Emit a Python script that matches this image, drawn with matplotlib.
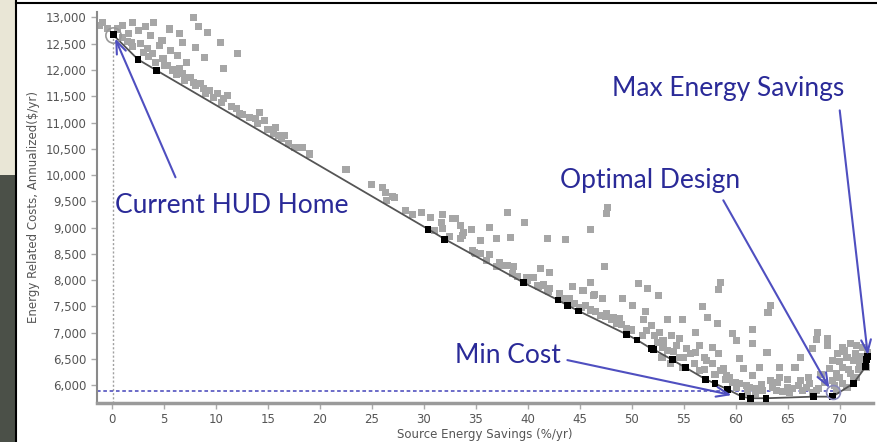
import numpy as np
import matplotlib.pyplot as plt
from matplotlib.patches import Rectangle
from matplotlib.lines import Line2D

# --- data ---
# gray cloud: all simulated designs
gray_x = [-1.2, -0.4, -0.9, 2.0, 2.5, 3.2, 3.7, 1.6, 7.8, 8.3, 9.2, 6.5, 6.8, 4.8, 4.6, 5.6, 6.3,
          7.2, 8.0, 8.9, 10.4, 12.1, 10.7, 1.9, 2.7, 3.4, 3.9, 4.9, 5.3, 6.5, 6.8, 7.5, 7.8, 8.5,
          8.8, 9.4, 10.1, 10.7, 11.1, 12.0, 12.3, 14.2, 13.8, 14.7, 15.7, 15.5, 16.6, 16.3, 17.6,
          18.3, 1.0, 4.0, 5.5, 0.5,
          22.5, 25.0, 26.0, 26.3, 27.0, 26.4, 27.2, 28.2, 28.9, 29.8, 30.6, 31.8, 32.8, 31.7, 31.8,
          33.5, 33.8, 34.6, 36.3, 38.0, 39.7, 35.4, 37.0, 38.3, 33.5, 34.7, 35.4, 36.3, 37.3, 38.0,
          38.6, 39.9, 41.2, 41.9, 41.2, 41.9, 33.0, 33.7, 43.6, 46.0, 47.7, 47.6, 34.9, 37.6, 42.1,
          40.9, 42.1, 44.3, 45.3, 46.0, 46.3, 47.2, 47.4, 49.1, 48.2, 48.8, 47.6, 43.8, 45.0,
          44.0, 45.5, 46.5, 47.5, 48.5, 49.5, 43.0, 41.5, 40.5, 31.0, 32.5, 35.0, 36.0, 37.0,
          38.5, 39.0,
          46.4, 50.1, 50.6, 51.5, 52.6, 51.3, 51.1, 51.9, 53.4, 54.9, 52.7, 53.8, 54.6, 56.1, 56.8,
          57.3, 58.2, 58.5, 58.3, 63.3, 63.1, 61.6, 61.6, 59.7, 60.1, 63.0, 60.4, 64.2, 65.7, 66.2,
          67.9, 67.8, 68.8, 68.8, 67.4, 56.5, 57.8, 58.3, 57.2, 55.6, 54.6, 53.4, 52.9, 53.7, 54.9,
          56.5, 58.8, 59.4, 60.7, 61.6, 62.3, 63.3, 64.2, 65.0, 66.2, 67.1, 67.8, 60.4, 61.3, 62.6,
          63.9, 65.2, 66.4, 67.4,
          51.4, 52.2, 53.0, 54.3, 55.3, 53.0, 56.1, 57.0, 57.8, 58.5, 59.1, 59.7, 60.1, 61.1, 61.9,
          69.3, 69.8, 70.3, 71.0, 71.6, 72.2, 72.7, 70.7, 71.3, 71.9, 70.3, 69.7, 71.0, 71.6, 69.3,
          70.3, 69.7, 70.7, 71.3, 69.0, 72.4, 72.6,
          40.0, 41.0, 42.0, 43.5, 44.5, 45.2, 46.0, 47.0, 48.0, 49.0, 50.0, 51.0, 52.5, 54.0, 55.0,
          56.0, 57.0, 58.0, 59.0, 60.0, 61.0, 62.0, 63.5, 64.5, 65.5, 66.8, 68.0, 68.5, 62.5, 64.0,
          65.0, 66.0, 67.0, 68.2,
          1.0, 1.5, 2.0, 3.0, 3.5, 4.2, 5.0, 5.8, 6.2, 7.0, 8.0, 9.0, 9.8, 10.5, 11.5, 12.5, 13.2,
          14.0, 15.0, 16.0, 17.0, 19.0,
          70.0, 70.5, 71.5, 72.0, 70.0, 70.8, 71.8, 69.5]
gray_y = [12850, 12790, 12900, 12905, 12753, 12829, 12658, 12696, 13000, 12829, 12715, 12696, 12524,
          12563, 12467, 12372, 12277, 12144, 12429, 12239, 12524, 12315, 12030, 12524, 12505, 12410,
          12315, 12220, 12087, 12030, 11935, 11859, 11764, 11745, 11650, 11612, 11554, 11459, 11516,
          11269, 11174, 11193, 11079, 11041, 10908, 10794, 10756, 10699, 10527, 10527, 12850, 12900,
          12780, 12780,
          10109, 9824, 9767, 9672, 9595, 9519, 9576, 9329, 9253, 9291, 9196, 9253, 9177, 9101, 8987,
          9044, 8911, 8968, 9006, 9291, 9101, 8759, 8797, 8816, 8797, 8568, 8511, 8492, 8340, 8283,
          8264, 8055, 8226, 8797, 7903, 7807, 9177, 8854, 8778, 8968, 9386, 9272, 8530, 8283, 8150,
          7903, 7846, 7884, 7807, 7960, 7712, 7655, 8264, 7655, 7294, 7275, 7370, 7560, 7484,
          7650, 7520, 7400, 7300, 7180, 7080, 7750, 7920, 8050, 8950, 8830, 8500, 8380, 8260,
          8120, 8070,
          7731, 7522, 7941, 7846, 7712, 7408, 7256, 7142, 7256, 7256, 7009, 6952, 6895, 7009, 7503,
          7294, 7180, 7960, 7827, 7522, 7389, 7066, 6799, 6990, 6857, 6628, 6514, 6343, 6343, 6533,
          7009, 6876, 6895, 6761, 6704, 6761, 6723, 6609, 6476, 6609, 6533, 6666, 6533, 6419, 6343,
          6286, 6324, 6153, 6324, 6191, 6343, 6096, 6153, 5963, 6096, 6039, 5906, 6039, 5963, 5906,
          5906, 5868, 5906, 5849,
          7047, 6952, 6857, 6761, 6704, 6723, 6628, 6533, 6419, 6286, 6191, 6058, 5963, 5868, 5849,
          6476, 6609, 6723, 6799, 6761, 6723, 6628, 6533, 6476, 6419, 6343, 6229, 6229, 6153, 6096,
          6039, 5906, 5963, 6096, 6324, 6476, 6343,
          8000, 7880, 7790, 7640, 7560, 7480, 7430, 7330, 7250, 7150, 7050, 6950, 6820, 6640, 6520,
          6420, 6300, 6200, 6100, 6050, 5990, 5940, 5960, 5880, 5930, 5960, 5930, 6050, 6020, 6050,
          6100, 6000, 6150, 6200,
          12620, 12550, 12450, 12330, 12250, 12150, 12080, 12000, 11920, 11800, 11700, 11560, 11470,
          11380, 11300, 11150, 11090, 10980, 10870, 10760, 10600, 10400,
          6450, 6650, 6600, 6550, 6150, 6300, 6300, 6000]

# black: least-cost curve
front_x = [0.1, 2.5, 4.3, 30.4, 32.0, 39.6, 42.9, 43.8, 44.9, 49.5, 50.5, 51.9, 52.1, 53.9, 55.2,
           57.1, 58.0, 59.2, 60.6, 61.4, 62.9, 67.5, 69.3, 71.3, 72.5, 72.6, 72.7]
front_y = [12670, 12200, 11990, 8970, 8780, 7950, 7620, 7520, 7410, 6965, 6860, 6690, 6680, 6480,
           6330, 6110, 6030, 5920, 5780, 5750, 5750, 5780, 5780, 6030, 6350, 6480, 6540]

ref_x, ref_y = 0.1, 12670        # current HUD home
opt_x, opt_y = 69.4, 5870        # optimal design
min_cost_y = 5880

x_ticks = list(range(0, 75, 5))
y_ticks = list(range(6000, 13001, 500))

W, H = 877, 442
fig = plt.figure(figsize=(W / 100, H / 100), dpi=100)
fig.patch.set_facecolor("white")

# left strip and frame of the screenshot
fig.patches.append(Rectangle((0, 1 - 175 / H), 15 / W, 175 / H, transform=fig.transFigure,
                             facecolor="#e9e6d6", edgecolor="none"))
fig.patches.append(Rectangle((0, 0), 15 / W, 1 - 175 / H, transform=fig.transFigure,
                             facecolor="#4b5048", edgecolor="none"))
fig.lines.append(Line2D([16 / W, 16 / W], [0, 1], transform=fig.transFigure, color="black", lw=1.5))
fig.lines.append(Line2D([16 / W, 1], [1 - 2.5 / H, 1 - 2.5 / H], transform=fig.transFigure,
                        color="black", lw=1.5))

ax = fig.add_axes([97 / W, 1 - 402.7 / H, (873 - 97) / W, (402.7 - 11.7) / H])
ax.set_xlim(-1.45, 73.2)
ax.set_ylim(5665, 13110)

ax.scatter(gray_x, gray_y, s=26, marker="s", color="#a6a6a6", edgecolors="none", zorder=2)
ax.plot(front_x, front_y, color="#555555", lw=1.3, zorder=3)
ax.scatter(front_x, front_y, s=24, marker="s", color="black", edgecolors="none", zorder=4)

# reference lines
ax.axvline(ref_x, ymax=(ref_y - 5665) / (13110 - 5665), color="#a0a0a0", lw=1, ls=(0, (1.5, 1.5)),
           zorder=1)
ax.plot([-1.45, opt_x], [min_cost_y, min_cost_y], color="#5f5fc4", lw=1.3, ls=(0, (2, 1.5)), zorder=1)
ax.plot(ref_x, ref_y, marker="o", ms=11, mfc="none", mec="#999999", mew=1.2, zorder=5)
ax.plot(opt_x, opt_y, marker="o", ms=10, mfc="none", mec="#8888bb", mew=1.2, zorder=5)

# axes styling
for side in ["top", "right"]:
    ax.spines[side].set_visible(False)
ax.spines["left"].set_color("#8a8a8a")
ax.spines["left"].set_linewidth(1.5)
ax.spines["bottom"].set_color("#9a9a9a")
ax.spines["bottom"].set_linewidth(2.5)
ax.set_xticks(x_ticks)
ax.set_yticks(y_ticks)
ax.set_yticklabels([f"{v:,}" for v in y_ticks])
ax.tick_params(colors="#aaaaaa", labelcolor="#555555", labelsize=8.5, length=4, width=1)
ax.set_xlabel("Source Energy Savings (%/yr)", fontsize=8.5, color="#555555", labelpad=1)
ax.set_ylabel("Energy Related Costs, Annualized($/yr)", fontsize=8.5, color="#555555", labelpad=4)

# callouts
txt = dict(color="#2a2a98", fontsize=19, family="Lato", va="center", ha="left")
arrow = dict(arrowstyle="->,head_length=0.9,head_width=0.35", color="#4f4fc0", lw=1.5,
             shrinkA=0, shrinkB=0)
ax.text(0.3, 9424, "Current HUD Home", **txt)
ax.text(43.1, 9900, "Optimal Design", **txt)
ax.text(48.1, 11650, "Max Energy Savings", **txt)
ax.text(33.0, 6571, "Min Cost", **txt)
ax.annotate("", xy=(0.3, 12600), xytext=(6.1, 9957), arrowprops=arrow, zorder=6)
ax.annotate("", xy=(69.0, 5944), xytext=(58.8, 9519), arrowprops=arrow, zorder=6)
ax.annotate("", xy=(72.7, 6571), xytext=(70.0, 11231), arrowprops=arrow, zorder=6)
ax.annotate("", xy=(59.6, 5810), xytext=(43.8, 6476), arrowprops=arrow, zorder=6)

fig.savefig("out.png", dpi=100)
